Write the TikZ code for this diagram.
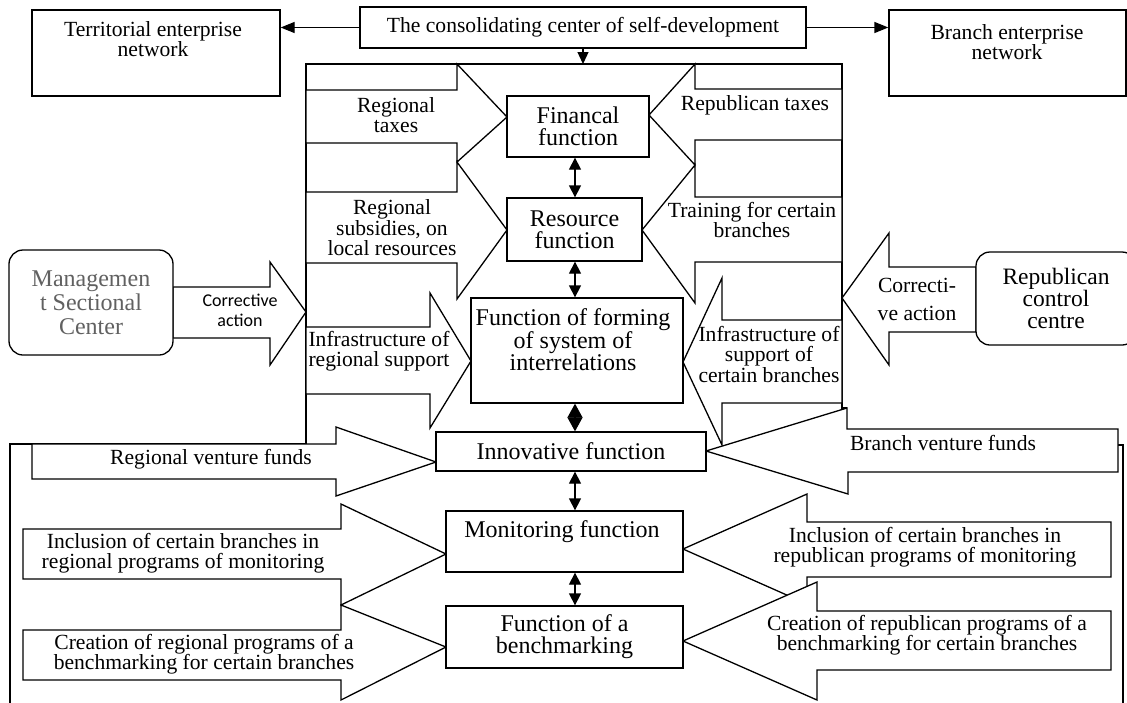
\documentclass[tikz,border=0pt]{standalone}
\usepackage{fontspec}
\setmainfont{Liberation Serif}
\newfontfamily\carl{Carlito}
\usetikzlibrary{arrows.meta,calc}
\definecolor{mgray}{gray}{0.38}
\begin{document}
\begin{tikzpicture}[x=1pt,y=-1pt,
  lw/.style={line width=1.3pt},
  box/.style={draw,lw,fill=white,inner sep=0pt},
  blk/.style={draw,lw,fill=white,line join=miter},
  tx/.style={align=center,inner sep=0pt,font=\fontsize{21.6}{20.5}\selectfont},
  fx/.style={align=center,inner sep=0pt,font=\fontsize{24}{22}\selectfont},
  tipa/.style={lw,-{Triangle[length=14pt,width=11pt]}},
  tipb/.style={lw,-{Triangle[length=12pt,width=11pt]}},
  dbl/.style={lw,{Triangle[length=12pt,width=12pt]}-{Triangle[length=12pt,width=12pt]}},
  dmd/.style={lw,{Triangle[length=14pt,width=15pt]}-{Triangle[length=14pt,width=15pt]}}
]
\useasboundingbox (0,0) rectangle (1127,702);
\fill[white] (0,0) rectangle (1127,702);
\begin{scope}
\clip (0,0) rectangle (1127,702);

% frame lines
\draw[lw] (306,444) -- (306,64) -- (842,64) -- (842,408) -- (847,408);
\draw[lw] (306,444) -- (10,444) -- (10,710);
\draw[lw] (1118,445) -- (1123,445) -- (1123,710);

% left block arrows
\draw[blk] (306,90) -- (457,90) -- (457,64) -- (507,117) -- (457,162) -- (457,143) -- (306,143) -- cycle;
\draw[blk] (306,192) -- (457,192) -- (457,162) -- (507,230) -- (457,299) -- (457,263) -- (306,263) -- cycle;
\draw[blk] (306,327) -- (430,327) -- (430,293) -- (471,361) -- (430,428) -- (430,394) -- (306,394) -- cycle;
\draw[blk] (173,287) -- (270,287) -- (270,262) -- (306,312) -- (270,365) -- (270,338) -- (173,338) -- cycle;
\draw[blk] (32,444) -- (336,444) -- (336,427) -- (436,462) -- (336,496) -- (336,479) -- (32,479) -- cycle;
\draw[blk] (23,529) -- (341,529) -- (341,504) -- (446,554) -- (341,605) -- (341,579) -- (23,579) -- cycle;
\draw[blk] (23,630) -- (341,630) -- (341,605) -- (446,647) -- (341,700) -- (341,680) -- (23,680) -- cycle;

% right block arrows
\draw[blk] (842,89) -- (695,89) -- (695,64) -- (649,115) -- (695,165) -- (695,140) -- (842,140) -- cycle;
\draw[blk] (842,197) -- (695,197) -- (695,165) -- (642,230) -- (695,303) -- (695,262) -- (842,262) -- cycle;
\draw[blk] (842,320) -- (722,320) -- (722,278) -- (683,362) -- (722,445) -- (722,403) -- (842,403) -- cycle;
\draw[blk] (976,267) -- (889,267) -- (889,233) -- (842,298) -- (889,365) -- (889,332) -- (976,332) -- cycle;
\draw[blk] (1118,429) -- (847,429) -- (847,408) -- (706,451) -- (848,494) -- (848,472) -- (1118,472) -- cycle;
\draw[blk] (1111,522) -- (807,522) -- (807,494) -- (683,549) -- (807,604) -- (807,577) -- (1111,577) -- cycle;
\draw[blk] (1111,611) -- (817,611) -- (817,582) -- (683,641) -- (817,700) -- (817,670) -- (1111,670) -- cycle;

% boxes
\node[box,tx,minimum width=446pt,minimum height=41pt] (cons) at (583,27.5) {The consolidating center of self-development};
\node[box,minimum width=248pt,minimum height=86pt] (terr) at (156,53) {};
\node[tx] at (153,39) {Territorial enterprise\\network};
\node[box,minimum width=237pt,minimum height=86pt] (br) at (1007.5,53) {};
\node[tx] at (1007,42) {Branch enterprise\\network};

\node[box,rounded corners=14pt,minimum width=164pt,minimum height=105pt,text=mgray,align=center,font=\fontsize{24}{24}\selectfont] (msc) at (91,302.5) {Managemen\\t Sectional\\Center};
\node[box,rounded corners=14pt,minimum width=160pt,minimum height=93pt,align=center,font=\fontsize{23.5}{22}\selectfont] (rcc) at (1056,298.5) {Republican\\control\\centre};

\node[box,fx,minimum width=142pt,minimum height=61pt] (fin) at (578,126.5) {Financal\\function};
\node[box,fx,minimum width=135pt,minimum height=63pt] (res) at (574.5,229.5) {Resource\\function};
\node[box,minimum width=212pt,minimum height=105pt] (form) at (577,350.5) {};
\node[fx] at (573,340) {Function of forming\\of system of\\interrelations};
\node[box,fx,minimum width=270pt,minimum height=39pt] (inn) at (571,451.5) {Innovative function};
\node[box,minimum width=237pt,minimum height=61pt] (mon) at (564.5,541.5) {};
\node[fx] at (562,532) {Monitoring function};
\node[box,fx,minimum width=237pt,minimum height=62pt] (ben) at (564.5,637) {Function of a\\benchmarking};

% connectors
\coordinate (ax) at (575,0);
\coordinate (ftop) at (583,64);
\draw[tipa] (cons.west) -- (cons.west -| terr.east);
\draw[tipa] (cons.east) -- (cons.east -| br.west);
\draw[tipb] (cons.south) -- (ftop);
\draw[dbl] (fin.south -| ax) -- (res.north -| ax);
\draw[dbl] (res.south -| ax) -- (form.north -| ax);
\draw[dmd] (form.south -| ax) -- (inn.north -| ax);
\draw[dbl] (inn.south -| ax) -- (mon.north -| ax);
\draw[dbl] (mon.south -| ax) -- (ben.north -| ax);

% block arrow texts
\node[tx] at (396,115) {Regional\\taxes};
\node[tx] at (392,228) {Regional\\subsidies, on\\local resources};
\node[tx] at (379,351) {Infrastructure of\\regional support};
\node[align=center,inner sep=0pt,font=\carl\fontsize{18}{20}\selectfont] at (240,310) {Corrective\\action};
\node[tx] at (211,459) {Regional venture funds};
\node[tx] at (183,553) {Inclusion of certain branches in\\regional programs of monitoring};
\node[tx] at (204,654) {Creation of regional programs of a\\benchmarking for certain branches};
\node[tx] at (755,105) {Republican taxes};
\node[tx] at (752,220) {Training for certain\\branches};
\node[tx] at (769,354) {Infrastructure of\\support of\\certain branches};
\node[tx,font=\fontsize{21.6}{28}\selectfont] at (917,299) {Correcti-\\ve action};
\node[tx] at (943,443) {Branch venture funds};
\node[tx] at (925,547) {Inclusion of certain branches in\\republican programs of monitoring};
\node[tx] at (927,635) {Creation of republican programs of a\\benchmarking for certain branches};
\end{scope}
\end{tikzpicture}
\end{document}
